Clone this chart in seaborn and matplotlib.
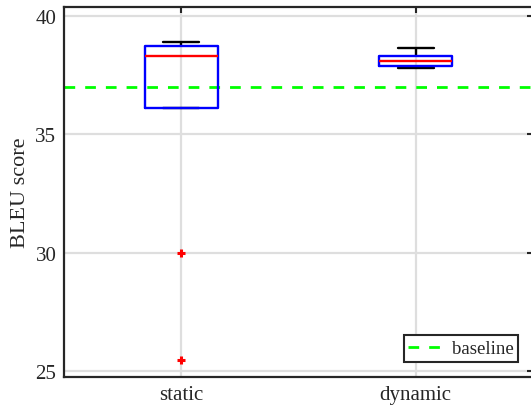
import numpy as np
import pandas as pd
import matplotlib
matplotlib.use("Agg")
import matplotlib.pyplot as plt
import seaborn as sns

# ---- data ----
categories = ["static", "dynamic"]
static_scores = [25.45, 30.0, 36.13, 36.13, 37.5, 38.34, 38.5, 38.70, 38.78, 38.85, 38.90]
dynamic_scores = [37.80, 37.86, 37.90, 37.92, 38.00, 38.12, 38.20, 38.30, 38.38, 38.50, 38.66]
baseline_value = 37.0
y_ticks = [25, 30, 35, 40]

df = pd.DataFrame({
    "method": ["static"] * len(static_scores) + ["dynamic"] * len(dynamic_scores),
    "score": static_scores + dynamic_scores,
})

sns.set_style("white")
plt.rcParams["font.family"] = ["Liberation Serif", "DejaVu Serif"]

W, H = 531, 410
fig = plt.figure(figsize=(W / 100, H / 100), dpi=100)
ax = fig.add_axes([64 / W, 1 - 377.7 / H, 469 / W, (377.7 - 8) / H])

spine_c = "#262626"
LW = 1.7

sns.boxplot(
    data=df, x="method", y="score", order=categories, ax=ax,
    width=0.31, fill=False, whis=1.5,
    boxprops=dict(color="#0000ff", linewidth=LW, zorder=4),
    medianprops=dict(color="#ff0000", linewidth=LW, zorder=5),
    whiskerprops=dict(color="black", linewidth=LW, zorder=3),
    capprops=dict(color="black", linewidth=LW, zorder=3),
    flierprops=dict(marker="+", markeredgecolor="#ff0000", markerfacecolor="#ff0000",
                    markersize=5.5, markeredgewidth=2.2, linestyle="none", zorder=5),
)

ax.axhline(baseline_value, color="#00ff00", linewidth=2.0, dashes=(3.85, 3.6),
           label="baseline", zorder=2.5)

ax.set_axisbelow(True)
ax.grid(True, axis="both", color="#dedede", linewidth=1.6)

ax.set_xlim(-0.5, 1.5)
ax.set_ylim(24.746, 40.394)
ax.set_yticks(y_ticks)
ax.set_xticks(range(len(categories)))
ax.set_xticklabels(categories)
ax.set_xlabel("")
ax.set_ylabel("BLEU score", fontsize=16, color=spine_c, labelpad=4)

ax.tick_params(axis="both", direction="in", length=4, width=1.5, color=spine_c,
               labelsize=15, labelcolor=spine_c, top=True, right=True)
ax.tick_params(axis="y", pad=5.5)
ax.tick_params(axis="x", pad=6)

for s in ax.spines.values():
    s.set_visible(True)
    s.set_color(spine_c)
    s.set_linewidth(1.6)

leg = ax.legend(loc="lower right", bbox_to_anchor=(0.968, 0.04), borderaxespad=0,
                fontsize=13.5, frameon=True, fancybox=False, framealpha=1,
                handlelength=2.0, handletextpad=0.3, borderpad=0.25)
leg.get_frame().set_edgecolor(spine_c)
leg.get_frame().set_linewidth(1.5)

fig.savefig("out.png", dpi=100)
